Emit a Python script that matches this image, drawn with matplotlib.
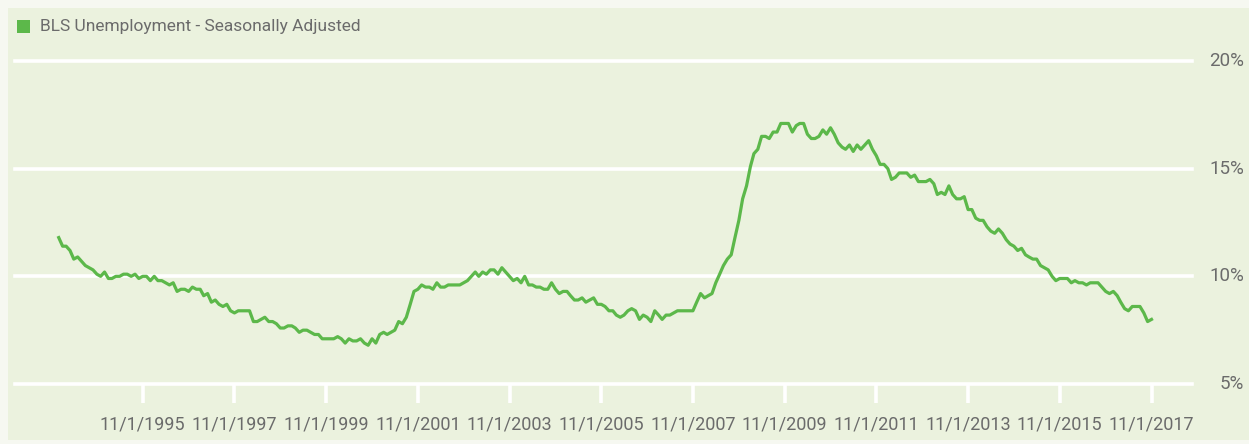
import datetime as dt
import matplotlib
matplotlib.use("Agg")
import matplotlib.pyplot as plt
import matplotlib.dates as mdates
from matplotlib.patches import Rectangle
from matplotlib.transforms import blended_transform_factory

plt.rcParams['font.family'] = ['Roboto', 'DejaVu Sans']

# Monthly U-6 rate (%), seasonally adjusted, Jan 1994 - Nov 2017
u6_1994 = [11.8, 11.4, 11.4, 11.2, 10.8, 10.9, 10.7, 10.5, 10.4, 10.3, 10.1, 10.0]
u6_1995 = [10.2, 9.9, 9.9, 10.0, 10.0, 10.1, 10.1, 10.0, 10.1, 9.9, 10.0, 10.0]
u6_1996 = [9.8, 10.0, 9.8, 9.8, 9.7, 9.6, 9.7, 9.3, 9.4, 9.4, 9.3, 9.5]
u6_1997 = [9.4, 9.4, 9.1, 9.2, 8.8, 8.9, 8.7, 8.6, 8.7, 8.4, 8.3, 8.4]
u6_1998 = [8.4, 8.4, 8.4, 7.9, 7.9, 8.0, 8.1, 7.9, 7.9, 7.8, 7.6, 7.6]
u6_1999 = [7.7, 7.7, 7.6, 7.4, 7.5, 7.5, 7.4, 7.3, 7.3, 7.1, 7.1, 7.1]
u6_2000 = [7.1, 7.2, 7.1, 6.9, 7.1, 7.0, 7.0, 7.1, 6.9, 6.8, 7.1, 6.9]
u6_2001 = [7.3, 7.4, 7.3, 7.4, 7.5, 7.9, 7.8, 8.1, 8.7, 9.3, 9.4, 9.6]
u6_2002 = [9.5, 9.5, 9.4, 9.7, 9.5, 9.5, 9.6, 9.6, 9.6, 9.6, 9.7, 9.8]
u6_2003 = [10.0, 10.2, 10.0, 10.2, 10.1, 10.3, 10.3, 10.1, 10.4, 10.2, 10.0, 9.8]
u6_2004 = [9.9, 9.7, 10.0, 9.6, 9.6, 9.5, 9.5, 9.4, 9.4, 9.7, 9.4, 9.2]
u6_2005 = [9.3, 9.3, 9.1, 8.9, 8.9, 9.0, 8.8, 8.9, 9.0, 8.7, 8.7, 8.6]
u6_2006 = [8.4, 8.4, 8.2, 8.1, 8.2, 8.4, 8.5, 8.4, 8.0, 8.2, 8.1, 7.9]
u6_2007 = [8.4, 8.2, 8.0, 8.2, 8.2, 8.3, 8.4, 8.4, 8.4, 8.4, 8.4, 8.8]
u6_2008 = [9.2, 9.0, 9.1, 9.2, 9.7, 10.1, 10.5, 10.8, 11.0, 11.8, 12.6, 13.6]
u6_2009 = [14.2, 15.1, 15.7, 15.9, 16.5, 16.5, 16.4, 16.7, 16.7, 17.1, 17.1, 17.1]
u6_2010 = [16.7, 17.0, 17.1, 17.1, 16.6, 16.4, 16.4, 16.5, 16.8, 16.6, 16.9, 16.6]
u6_2011 = [16.2, 16.0, 15.9, 16.1, 15.8, 16.1, 15.9, 16.1, 16.3, 15.9, 15.6, 15.2]
u6_2012 = [15.2, 15.0, 14.5, 14.6, 14.8, 14.8, 14.8, 14.6, 14.7, 14.4, 14.4, 14.4]
u6_2013 = [14.5, 14.3, 13.8, 13.9, 13.8, 14.2, 13.8, 13.6, 13.6, 13.7, 13.1, 13.1]
u6_2014 = [12.7, 12.6, 12.6, 12.3, 12.1, 12.0, 12.2, 12.0, 11.7, 11.5, 11.4, 11.2]
u6_2015 = [11.3, 11.0, 10.9, 10.8, 10.8, 10.5, 10.4, 10.3, 10.0, 9.8, 9.9, 9.9]
u6_2016 = [9.9, 9.7, 9.8, 9.7, 9.7, 9.6, 9.7, 9.7, 9.7, 9.5, 9.3, 9.2]
u6_2017 = [9.3, 9.1, 8.8, 8.5, 8.4, 8.6, 8.6, 8.6, 8.3, 7.9, 8.0]

start_year = 1994
series_label = "BLS Unemployment - Seasonally Adjusted"
x_tick_dates = [dt.date(y, 11, 1) for y in range(1995, 2018, 2)]
y_ticks = [5, 10, 15, 20]

yearly = [u6_1994, u6_1995, u6_1996, u6_1997, u6_1998, u6_1999, u6_2000,
          u6_2001, u6_2002, u6_2003, u6_2004, u6_2005, u6_2006, u6_2007,
          u6_2008, u6_2009, u6_2010, u6_2011, u6_2012, u6_2013, u6_2014,
          u6_2015, u6_2016, u6_2017]
dates, values = [], []
for i, vals in enumerate(yearly):
    for m, v in enumerate(vals):
        dates.append(dt.date(start_year + i, m + 1, 1))
        values.append(v)

W, H = 1249, 444
BG = '#ebf2de'
LINE = '#5cb84a'
TXT = '#6b6b6b'

fig = plt.figure(figsize=(W / 100, H / 100), dpi=100)
fig.patch.set_facecolor('#f6f8f1')
panel = Rectangle((8 / W, 4 / H), 1 - 8 / W, 1 - 12 / H,
                  transform=fig.transFigure, facecolor=BG,
                  edgecolor='none', zorder=-10)
fig.patches.append(panel)

left_px, right_px, top_px, bottom_px = 15, 1192, 61, 384
ax = fig.add_axes([left_px / W, 1 - bottom_px / H,
                   (right_px - left_px) / W, (bottom_px - top_px) / H])
ax.set_zorder(1)
ax.set_facecolor('none')
for s in ax.spines.values():
    s.set_visible(False)

# x range chosen so the first and last odd-year ticks land where wanted
d1 = mdates.date2num(x_tick_dates[0])
d2 = mdates.date2num(x_tick_dates[-1])
p1, p2 = 142.7, 1151.5
per_px = (d2 - d1) / (p2 - p1)
ax.set_xlim(d1 + (left_px - p1) * per_px, d1 + (right_px - p1) * per_px)
ax.set_ylim(5, 20)

for yv in y_ticks:
    ax.axhline(yv, color='white', lw=2.6, zorder=1, clip_on=False)

ax.set_xticks([mdates.date2num(d) for d in x_tick_dates])
ax.set_xticklabels([f"{d.month}/{d.day}/{d.year}" for d in x_tick_dates],
                   fontsize=13, color=TXT)
ax.tick_params(axis='x', length=14, width=2.6, color='white', pad=9)
ax.set_yticks([])

ax.plot(mdates.date2num(dates), values, color=LINE, lw=2.3, zorder=3,
        solid_joinstyle='round', clip_on=False)

trans = blended_transform_factory(fig.transFigure, ax.transData)
for yv in y_ticks:
    fig.text(1244 / W, yv, f"{yv}%", transform=trans, ha='right', va='center',
             fontsize=13.5, color=TXT)

fig.patches.append(Rectangle((17 / W, 1 - 33 / H), 13 / W, 13 / H,
                             transform=fig.transFigure, facecolor=LINE,
                             edgecolor='none'))
fig.text(40 / W, 1 - 27 / H, series_label, ha='left', va='center',
         fontsize=12.5, color=TXT)

fig.savefig('out.png', dpi=100, facecolor=fig.get_facecolor())
